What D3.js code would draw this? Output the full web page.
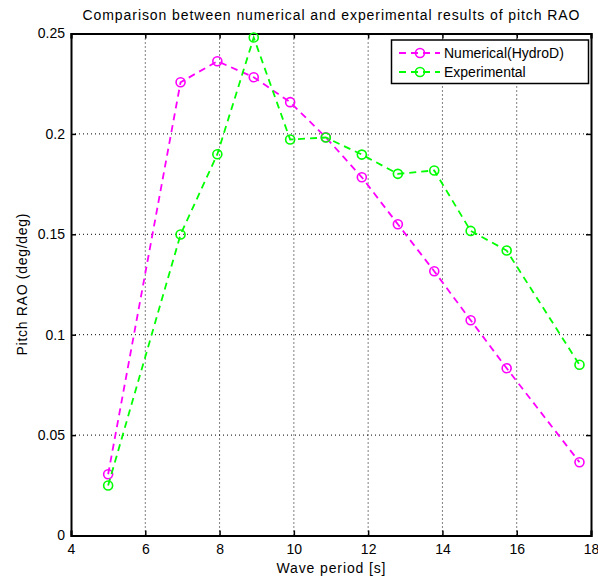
<!DOCTYPE html>
<html><head><meta charset="utf-8">
<script src="https://cdn.jsdelivr.net/npm/d3@7"></script>
<style>body{margin:0;background:#fff}svg{display:block}text{font-family:"Liberation Sans",Arial,sans-serif;fill:#000}</style>
</head><body>
<script>
const periods = [5.0, 6.95, 7.94, 8.92, 9.90, 10.86, 11.83, 12.80, 13.78, 14.76, 15.73, 17.69];
const numerical = [0.0305, 0.2257, 0.2362, 0.2282, 0.2158, 0.1983, 0.1784, 0.1550, 0.1316, 0.1072, 0.0833, 0.0365];
const experimental = [0.0249, 0.1499, 0.1899, 0.2480, 0.1972, 0.1982, 0.1897, 0.1801, 0.1818, 0.1517, 0.1419, 0.0850];
const xTicks = [4, 6, 8, 10, 12, 14, 16, 18];
const yTicks = [0, 0.05, 0.1, 0.15, 0.2, 0.25];
const seriesNames = ["Numerical(HydroD)", "Experimental"];
const seriesColors = ["#ff00ff", "#00ff00"];

const W = 598, H = 579;
const m = {left: 71, right: 7, top: 33.5, bottom: 43.5};
const svg = d3.select("body").append("svg").attr("width", W).attr("height", H);
const x = d3.scaleLinear().domain([4, 18]).range([m.left, W - m.right]);
const y = d3.scaleLinear().domain([0, 0.25]).range([H - m.bottom, m.top]);

// grid
const g = svg.append("g");
g.selectAll(".gx").data(xTicks.slice(1, -1)).join("line")
  .attr("x1", d => x(d)).attr("x2", d => x(d)).attr("y1", y(0)).attr("y2", y(0.25))
  .attr("stroke", "#000").attr("stroke-width", 1).attr("stroke-dasharray", "1,3");
g.selectAll(".gy").data(yTicks.slice(1, -1)).join("line")
  .attr("x1", x(4)).attr("x2", x(18)).attr("y1", d => y(d)).attr("y2", d => y(d))
  .attr("stroke", "#000").attr("stroke-width", 1).attr("stroke-dasharray", "1,3");

// axes
const xAxis = svg.append("g").attr("transform", `translate(0,${y(0)})`)
  .call(d3.axisBottom(x).tickValues(xTicks).tickSize(-5).tickPadding(9).tickFormat(d3.format("d")));
const xTop = svg.append("g").attr("transform", `translate(0,${y(0.25)})`)
  .call(d3.axisTop(x).tickValues(xTicks).tickSize(-5).tickFormat(""));
const yAxis = svg.append("g").attr("transform", `translate(${x(4)},0)`)
  .call(d3.axisLeft(y).tickValues(yTicks).tickSize(-5).tickPadding(6).tickFormat(d => d === 0 ? "0" : String(d)));
const yRight = svg.append("g").attr("transform", `translate(${x(18)},0)`)
  .call(d3.axisRight(y).tickValues(yTicks).tickSize(-5).tickFormat(""));
[xAxis, xTop, yAxis, yRight].forEach(a => {
  a.select(".domain").attr("stroke", "#000").attr("stroke-width", 2);
  a.selectAll(".tick line").attr("stroke", "#000").attr("stroke-width", 1.5);
  a.selectAll(".tick text").attr("font-size", 14).attr("font-family", "Liberation Sans, Arial, sans-serif").attr("fill", "#000");
});

// series
const line = d3.line().x(d => x(d[0])).y(d => y(d[1]));
[numerical, experimental].forEach((vals, i) => {
  const pts = periods.map((p, j) => [p, vals[j]]);
  svg.append("path").datum(pts).attr("d", line).attr("fill", "none")
    .attr("stroke", seriesColors[i]).attr("stroke-width", 1.8).attr("stroke-dasharray", "7,5");
  svg.append("g").selectAll("circle").data(pts).join("circle")
    .attr("cx", d => x(d[0])).attr("cy", d => y(d[1])).attr("r", 4.5)
    .attr("fill", "none").attr("stroke", seriesColors[i]).attr("stroke-width", 1.6);
});

// title & labels
svg.append("text").attr("x", (x(4) + x(18)) / 2).attr("y", 20).attr("text-anchor", "middle")
  .attr("font-size", 14).attr("textLength", 497).attr("lengthAdjust", "spacing")
  .text("Comparison between numerical and experimental results of pitch RAO");
svg.append("text").attr("x", (x(4) + x(18)) / 2).attr("y", 573).attr("text-anchor", "middle")
  .attr("font-size", 14).attr("textLength", 109).attr("lengthAdjust", "spacing").text("Wave period [s]");
svg.append("text").attr("transform", `translate(27,${(y(0) + y(0.25)) / 2}) rotate(-90)`)
  .attr("text-anchor", "middle").attr("font-size", 14).attr("textLength", 142).attr("lengthAdjust", "spacing")
  .text("Pitch RAO (deg/deg)");

// legend
const lg = svg.append("g");
lg.append("rect").attr("x", 391.5).attr("y", 40).attr("width", 197).attr("height", 43.5)
  .attr("fill", "#fff").attr("stroke", "#000").attr("stroke-width", 1.5);
seriesNames.forEach((name, i) => {
  const cy = 53 + i * 19;
  lg.append("line").attr("x1", 399).attr("x2", 440).attr("y1", cy).attr("y2", cy)
    .attr("stroke", seriesColors[i]).attr("stroke-width", 1.8).attr("stroke-dasharray", "7,5");
  lg.append("circle").attr("cx", 420).attr("cy", cy).attr("r", 4.5).attr("fill", "none")
    .attr("stroke", seriesColors[i]).attr("stroke-width", 1.6);
  lg.append("text").attr("x", 444).attr("y", cy + 5).attr("font-size", 14).text(name);
});
</script>
</body></html>
